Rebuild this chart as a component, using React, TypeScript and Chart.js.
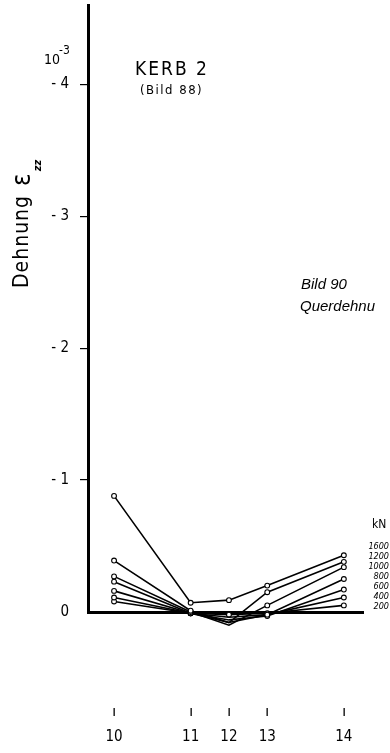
import React, { useEffect, useRef } from "react";
import { Chart, registerables } from "chart.js";

Chart.register(...registerables);

// measuring points (relative positions along the specimen) and their labels
const stationPositions = [0, 2, 3, 4, 6];
const stationLabels = ["10", "11", "12", "13", "14"];

// load steps in kN
const loadLabels = ["1600", "1200", "1000", "800", "600", "400", "200"];

// strain ε_zz in 10^-3 (negative = plotted upward)
const strain1600 = [-0.88, -0.07, -0.09, -0.2, -0.43];
const strain1200 = [-0.39, -0.01, 0.08, -0.15, -0.38];
const strain1000 = [-0.27, 0.0, 0.1, -0.05, -0.34];
const strain800 = [-0.23, 0.01, 0.08, 0.02, -0.25];
const strain600 = [-0.16, 0.01, 0.06, 0.03, -0.17];
const strain400 = [-0.11, 0.01, 0.04, 0.02, -0.11];
const strain200 = [-0.08, 0.01, 0.02, 0.01, -0.05];

const yTickValues = [-4, -3, -2, -1, 0];

const seriesList = [strain1600, strain1200, strain1000, strain800, strain600, strain400, strain200];

const annotations = {
  id: "annotations",
  afterDraw(chart: any) {
    const { ctx } = chart;
    const xs = chart.scales.x;
    ctx.save();
    ctx.fillStyle = "#000";
    ctx.strokeStyle = "#000";
    ctx.textBaseline = "alphabetic";
    ctx.textAlign = "left";

    // 10^-3
    ctx.font = "14px 'DejaVu Sans Condensed', 'DejaVu Sans'";
    ctx.fillText("10", 44, 64);
    ctx.font = "12px 'DejaVu Sans Condensed', 'DejaVu Sans'";
    ctx.fillText("-3", 59, 54);

    // KERB 2
    ctx.font = "19px 'DejaVu Sans Condensed', 'DejaVu Sans'";
    (ctx as any).letterSpacing = "2px";
    ctx.fillText("KERB 2", 135, 75);
    ctx.font = "13px 'DejaVu Sans Condensed', 'DejaVu Sans'";
    (ctx as any).letterSpacing = "1.5px";
    ctx.fillText("(Bild 88)", 140, 94);
    (ctx as any).letterSpacing = "0px";

    // Bild 90 / Querdehnu
    ctx.font = "italic 15px 'Liberation Sans', Arial";
    ctx.fillText("Bild 90", 301, 289);
    ctx.fillText("Querdehnu", 300, 311);

    // kN legend
    ctx.font = "12px 'DejaVu Sans Condensed', 'DejaVu Sans'";
    ctx.fillText("kN", 372, 528);
    ctx.font = "italic 9px 'DejaVu Sans Condensed', 'DejaVu Sans'";
    ctx.textAlign = "right";
    ctx.textBaseline = "middle";
    loadLabels.forEach((l, i) => {
      ctx.fillText(l, 389, 547 + i * 10);
    });

    // small tick marks above station labels
    stationPositions.forEach((p) => {
      const px = xs.getPixelForValue(p);
      ctx.fillRect(Math.round(px) - 0.5, 708, 1.3, 8);
    });

    // y axis title
    ctx.save();
    ctx.translate(28, 288);
    ctx.rotate(-Math.PI / 2);
    ctx.textAlign = "left";
    ctx.textBaseline = "alphabetic";
    ctx.font = "21px 'DejaVu Sans Condensed', 'DejaVu Sans'";
    (ctx as any).letterSpacing = "1px";
    ctx.fillText("Dehnung", 0, 0);
    const w = ctx.measureText("Dehnung").width;
    (ctx as any).letterSpacing = "0px";
    ctx.font = "26px 'DejaVu Sans Condensed', 'DejaVu Sans'";
    ctx.fillText("ε", w + 9, 2);
    const we = ctx.measureText("ε").width;
    ctx.font = "bold italic 11px 'DejaVu Sans Condensed', 'DejaVu Sans'";
    ctx.fillText("zz", w + 9 + we + 2, 13);
    ctx.restore();

    ctx.restore();
  },
};

export default function App() {
  const canvasRef = useRef<HTMLCanvasElement | null>(null);

  useEffect(() => {
    if (!canvasRef.current) return;
    const chart = new Chart(canvasRef.current, {
      type: "line",
      data: {
        datasets: seriesList.map((s, i) => ({
          label: loadLabels[i] + " kN",
          data: s.map((v, j) => ({ x: stationPositions[j], y: v })),
          borderColor: "#000",
          borderWidth: 1.6,
          pointRadius: 2.4,
          pointBorderWidth: 1.1,
          pointBorderColor: "#000",
          pointBackgroundColor: "#fff",
          tension: 0,
          fill: false,
          clip: false as any,
        })),
      },
      options: {
        animation: false,
        responsive: false,
        events: [],
        layout: { padding: { top: 5, right: 27, bottom: 0, left: 0 } },
        plugins: {
          legend: { display: false },
          tooltip: { enabled: false },
          title: { display: false },
        },
        scales: {
          x: {
            type: "linear",
            min: -0.68,
            max: 6.5,
            afterFit: (s: any) => {
              s.height = 141;
              s.paddingLeft = 0;
              s.paddingRight = 0;
              s.paddingTop = 0;
              s.paddingBottom = 0;
            },
            afterBuildTicks: (s: any) => {
              s.ticks = stationPositions.map((v) => ({ value: v }));
            },
            ticks: {
              padding: 116,
              maxRotation: 0,
              color: "#000",
              font: { family: "'DejaVu Sans Condensed', 'DejaVu Sans'", size: 15 },
              callback: (v: any) => {
                const i = stationPositions.indexOf(Number(v));
                return i >= 0 ? stationLabels[i] : "";
              },
            },
            grid: { display: true, drawOnChartArea: false, drawTicks: false, color: "transparent" },
            border: { display: true, width: 3, color: "#000" },
          },
          y: {
            type: "linear",
            reverse: true,
            min: -4.6,
            max: 0,
            afterFit: (s: any) => {
              s.width = 88;
              s.paddingLeft = 0;
              s.paddingRight = 0;
              s.paddingTop = 0;
              s.paddingBottom = 0;
            },
            afterBuildTicks: (s: any) => {
              s.ticks = yTickValues.map((v) => ({ value: v }));
            },
            ticks: {
              padding: 11,
              color: "#000",
              font: { family: "'DejaVu Sans Condensed', 'DejaVu Sans'", size: 15 },
              callback: (v: any) => (Number(v) === 0 ? "0" : "- " + Math.abs(Number(v))),
            },
            grid: {
              drawOnChartArea: false,
              drawTicks: true,
              tickLength: 8,
              lineWidth: 1.2,
              color: (c: any) => (c.tick && c.tick.value === 0 ? "transparent" : "#000"),
            },
            border: { display: true, width: 3, color: "#000" },
          },
        },
      },
      plugins: [annotations],
    });
    return () => chart.destroy();
  }, []);

  return (
    <div style={{ position: "fixed", left: 0, top: 0, width: 390, height: 753, background: "#fff" }}>
      <canvas ref={canvasRef} width={390} height={753} style={{ display: "block" }} />
    </div>
  );
}
